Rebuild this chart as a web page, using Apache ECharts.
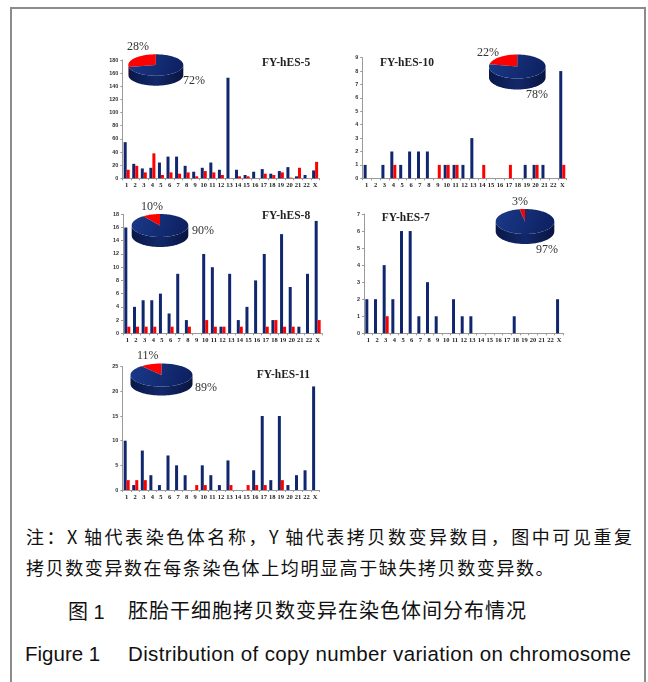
<!DOCTYPE html>
<html><head><meta charset="utf-8">
<script src="https://cdn.jsdelivr.net/npm/echarts@6/dist/echarts.min.js"></script>
<style>
html,body{margin:0;padding:0;background:#fff;}
#wrap{position:relative;width:648px;height:682px;overflow:hidden;background:#fff;}
#frame{position:absolute;left:10px;top:7px;width:636px;height:720px;border:2px solid #8c8c8c;box-sizing:border-box;}
#chart{position:absolute;left:0;top:0;width:648px;height:505px;}
.cap{position:absolute;white-space:nowrap;color:#111;font-family:"Noto Sans CJK SC","Liberation Sans",sans-serif;}
.en{font-family:"Liberation Sans",Arial,sans-serif;}
</style></head><body>
<div id="wrap">
<div id="frame"></div>
<div id="chart"></div>
<div class="cap" id="c1" style="left:26px;top:523px;font-size:18px;width:606px;text-align:justify;text-align-last:justify;">注：X 轴代表染色体名称，Y 轴代表拷贝数变异数目，图中可见重复</div>
<div class="cap" id="c2" style="left:26px;top:554px;font-size:18px;letter-spacing:1.6px;">拷贝数变异数在每条染色体上均明显高于缺失拷贝数变异数。</div>
<div class="cap en" id="c3a" style="left:68px;top:596px;font-size:20px;"><span style="font-family:'Noto Sans CJK SC'">图</span> 1</div>
<div class="cap" id="c3b" style="left:128px;top:595px;font-size:20px;letter-spacing:1px;">胚胎干细胞拷贝数变异在染色体间分布情况</div>
<div class="cap en" id="c4a" style="left:25px;top:642px;font-size:20.5px;">Figure 1</div>
<div class="cap en" id="c4b" style="left:128px;top:642px;font-size:20.5px;letter-spacing:0.35px;">Distribution of copy number variation on chromosome</div>
</div>
<script>
// ---- data ----
const chromosomes = ['1','2','3','4','5','6','7','8','9','10','11','12','13','14','15','16','17','18','19','20','21','22','X'];

const hES5Gain  = [55,22,15,16,24,33,33,19,10,16,24,13,153,13,5,10,14,7,11,17,3,5,12];
const hES5Loss  = [13,19,9,38,5,9,7,9,3,11,9,5,0,3,3,0,7,5,9,1,16,0,25];
const hES10Gain = [1,0,1,2,1,2,2,2,0,1,1,1,3,0,0,0,0,0,1,1,1,0,8];
const hES10Loss = [0,0,0,1,0,0,0,0,1,1,1,0,0,1,0,0,1,0,0,1,0,0,1];
const hES8Gain  = [16,4,5,5,6,3,9,2,0,12,10,1,9,2,4,8,12,2,15,7,1,9,17];
const hES8Loss  = [1,1,1,1,0,1,0,1,0,2,1,1,0,1,0,0,1,2,1,1,0,0,2];
const hES7Gain  = [2,2,4,2,6,6,1,3,1,0,2,1,1,0,0,0,0,1,0,0,0,0,2];
const hES7Loss  = [0,0,1,0,0,0,0,0,0,0,0,0,0,0,0,0,0,0,0,0,0,0,0];
const hES11Gain = [10,1,8,3,1,7,5,3,0,5,3,1,6,0,0,4,15,2,15,1,3,4,21];
const hES11Loss = [2,2,2,0,0,0,0,0,1,1,0,0,1,0,1,1,1,0,2,0,0,0,0];

// pie percentages: [gain, loss]
const pieHES5  = [72,28];
const pieHES10 = [78,22];
const pieHES8  = [90,10];
const pieHES7  = [97,3];
const pieHES11 = [89,11];

const panelNames = ['FY-hES-5','FY-hES-10','FY-hES-8','FY-hES-7','FY-hES-11'];
const yMax = [180,9,18,7,25];
const yStep = [20,1,2,1,5];

// ---- layout / style ----
const BLUE = '#10266e', RED = '#ff0000';
const panels = [
  {gain:hES5Gain, loss:hES5Loss, pie:pieHES5,
   grid:{left:122.4,top:60,width:197,height:118.3},
   pieL:{cx:155.8,cy:65,rx:27.5,ry:10.7,d:10},
   title:[262,57], lossLbl:[127,41], gainLbl:[183,75]},
  {gain:hES10Gain, loss:hES10Loss, pie:pieHES10,
   grid:{left:362.2,top:57.7,width:204.5,height:120.6},
   pieL:{cx:517.3,cy:66.5,rx:28.3,ry:12,d:11},
   title:[380,57], lossLbl:[477,47], gainLbl:[526,89]},
  {gain:hES8Gain, loss:hES8Loss, pie:pieHES8,
   grid:{left:123,top:214.3,width:199,height:119},
   pieL:{cx:160,cy:225.5,rx:28.3,ry:11.5,d:10},
   title:[262,210], lossLbl:[141,201], gainLbl:[192,225]},
  {gain:hES7Gain, loss:hES7Loss, pie:pieHES7,
   grid:{left:364,top:214,width:199.4,height:119.3},
   pieL:{cx:525,cy:221.5,rx:29.3,ry:12.5,d:10},
   title:[381.7,212], lossLbl:[512,196], gainLbl:[536,244]},
  {gain:hES11Gain, loss:hES11Loss, pie:pieHES11,
   grid:{left:122.4,top:366.7,width:197,height:123.3},
   pieL:{cx:161.5,cy:375,rx:31,ry:11.5,d:9},
   title:[256.7,369], lossLbl:[137,350], gainLbl:[195,382]}
];

function piePts(L, a1, a2, dy) {
  const pts = [];
  const n = Math.max(2, Math.ceil((a2 - a1) / 0.03));
  for (let i = 0; i <= n; i++) {
    const t = a1 + (a2 - a1) * i / n;
    pts.push([L.cx - L.rx * Math.sin(t), L.cy - L.ry * Math.cos(t) + dy]);
  }
  return pts;
}

const grids = [], xAxes = [], yAxes = [], series = [], titles = [];
panels.forEach((p, i) => {
  grids.push(p.grid);
  xAxes.push({
    type:'category', gridIndex:i, data:chromosomes,
    axisLine:{lineStyle:{color:'#9a9a9a',width:1}},
    axisTick:{show:true,length:2,lineStyle:{color:'#9a9a9a'}},
    axisLabel:{interval:0,fontSize:6.5,fontWeight:'bold',fontFamily:'Liberation Serif',color:'#222',margin:4}
  });
  yAxes.push({
    type:'value', gridIndex:i, min:0, max:yMax[i], interval:yStep[i],
    splitLine:{show:false},
    axisLine:{show:true,lineStyle:{color:'#9a9a9a',width:1}},
    axisTick:{show:true,length:2,lineStyle:{color:'#9a9a9a'}},
    axisLabel:{fontSize:5.5,fontWeight:'bold',fontFamily:'Liberation Sans',color:'#333',margin:4}
  });
  series.push({type:'bar',name:'gain',xAxisIndex:i,yAxisIndex:i,data:p.gain,barWidth:3,barGap:'0%',
    itemStyle:{color:BLUE},z:2});
  series.push({type:'bar',name:'loss',xAxisIndex:i,yAxisIndex:i,data:p.loss,barWidth:3,barGap:'0%',
    itemStyle:{color:RED},z:2});

  // pie: loss slice starts at 12 o'clock going counter-clockwise, gain covers the rest
  const L = p.pieL;
  const vals = [p.pie[1], p.pie[0]];
  const total = vals[0] + vals[1];
  const topCol = [RED, {type:'linear',x:0,y:0,x2:1,y2:1,colorStops:[{offset:0,color:'#1b3a8a'},{offset:1,color:'#0c1f5e'}]}];
  const sideCol = ['#b30000', {type:'linear',x:0,y:0,x2:1,y2:0,colorStops:[{offset:0,color:'#0a1848'},{offset:0.5,color:'#13286a'},{offset:1,color:'#081540'}]}];
  series.push({
    type:'custom', coordinateSystem:'none', z:5, silent:true,
    data: vals.map(v => [v]),
    renderItem: function (params, api) {
      const k = params.dataIndex;
      let start = 0;
      for (let j = 0; j < k; j++) start += vals[j];
      const a1 = start / total * Math.PI * 2;
      const a2 = (start + api.value(0)) / total * Math.PI * 2;
      const children = [];
      const s1 = Math.max(a1, Math.PI / 2), s2 = Math.min(a2, Math.PI * 1.5);
      if (s2 > s1) {
        const top = piePts(L, s1, s2, 0);
        const bot = piePts(L, s1, s2, L.d).reverse();
        children.push({type:'polygon',shape:{points:top.concat(bot)},style:{fill:sideCol[k]}});
      }
      const face = [[L.cx, L.cy]].concat(piePts(L, a1, a2, 0));
      children.push({type:'polygon',shape:{points:face},style:{fill:topCol[k]}});
      return {type:'group',children:children};
    }
  });

  titles.push({text:panelNames[i],left:p.title[0],top:p.title[1],padding:0,
    textStyle:{fontFamily:'Liberation Serif',fontSize:11.5,fontWeight:'bold',color:'#222'}});
  titles.push({text:p.pie[1]+'%',left:p.lossLbl[0],top:p.lossLbl[1],padding:0,
    textStyle:{fontFamily:'Liberation Serif',fontSize:12,fontWeight:'normal',color:'#333'}});
  titles.push({text:p.pie[0]+'%',left:p.gainLbl[0],top:p.gainLbl[1],padding:0,
    textStyle:{fontFamily:'Liberation Serif',fontSize:12,fontWeight:'normal',color:'#333'}});
});

const chart = echarts.init(document.getElementById('chart'), null, {renderer:'canvas'});
chart.setOption({
  animation:false,
  backgroundColor:'transparent',
  title:titles, grid:grids, xAxis:xAxes, yAxis:yAxes, series:series
});
</script>
</body></html>
